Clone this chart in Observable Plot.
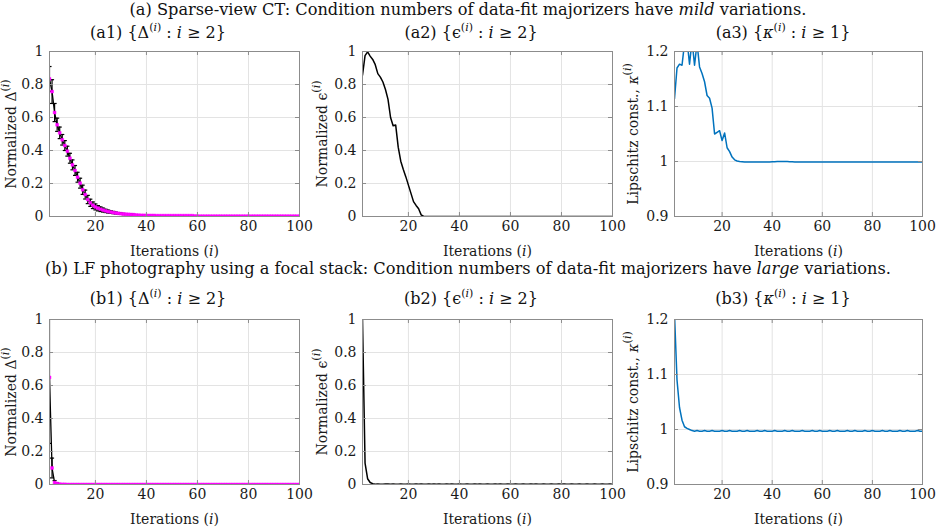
<!DOCTYPE html>
<html>
<head>
<meta charset="utf-8">
<script src="https://cdn.jsdelivr.net/npm/d3@7"></script>
<script src="https://cdn.jsdelivr.net/npm/@observablehq/plot@0.6"></script>
<style>
  html, body { margin: 0; padding: 0; background: #fff; }
  #root { position: relative; width: 936px; height: 528px; background: #fff; font-family: "DejaVu Serif", serif; color: #111; overflow: hidden; }
  .t { position: absolute; left: 0; width: 936px; text-align: center; font-size: 16.2px; line-height: 18px; white-space: nowrap; }
  .st { position: absolute; font-size: 16px; line-height: 18px; white-space: nowrap; transform: translateX(-50%); }
  .st sup { font-size: 11px; vertical-align: 7px; line-height: 0; }
  .p { position: absolute; }
</style>
</head>
<body>
<div id="root">
  <div class="t" style="top:1px">(a) Sparse-view CT: Condition numbers of data-fit majorizers have <i>mild</i> variations.</div>
  <div class="st" style="left:158px;top:24px">(a1) {Δ<sup>(<i>i</i>)</sup>&nbsp;: <i>i</i>&nbsp;≥ 2}</div>
  <div class="st" style="left:471px;top:24px">(a2) {ϵ<sup>(<i>i</i>)</sup>&nbsp;: <i>i</i>&nbsp;≥ 2}</div>
  <div class="st" style="left:783px;top:24px">(a3) {<i>κ</i><sup>(<i>i</i>)</sup>&nbsp;: <i>i</i>&nbsp;≥ 1}</div>
  <div class="t" style="top:260px">(b) LF photography using a focal stack: Condition numbers of data-fit majorizers have <i>large</i> variations.</div>
  <div class="st" style="left:158px;top:290px">(b1) {Δ<sup>(<i>i</i>)</sup>&nbsp;: <i>i</i>&nbsp;≥ 2}</div>
  <div class="st" style="left:471px;top:290px">(b2) {ϵ<sup>(<i>i</i>)</sup>&nbsp;: <i>i</i>&nbsp;≥ 2}</div>
  <div class="st" style="left:783px;top:290px">(b3) {<i>κ</i><sup>(<i>i</i>)</sup>&nbsp;: <i>i</i>&nbsp;≥ 1}</div>
</div>
<script>
// ---------- data ----------
const xTickValues = [20, 40, 60, 80, 100];
const yTicksNorm = [0, 0.2, 0.4, 0.6, 0.8, 1];
const yTicksKappa = [0.9, 1.0, 1.1, 1.2];

// (a) Sparse-view CT, iterations i = 2..100
const deltaA = [
  0.834,0.757,0.630,0.556,0.507,0.465,0.430,0.396,0.353,0.313,
  0.279,0.238,0.202,0.162,0.133,0.103,0.083,0.068,0.058,0.050,
  0.044,0.039,0.034,0.030,0.027,0.024,0.021,0.019,0.017,0.015,
  0.014,0.013,0.012,0.011,0.009,0.008,0.007,0.007,0.006,0.006,
  0.006,0.006,0.005,0.005,0.005,0.005,0.005,0.005,0.005,0.005,
  0.005,0.005,0.005,0.005,0.005,0.005,0.005,0.003,0.002,0.002,
  0.002,0.002,0.002,0.002,0.002,0.002,0.002,0.002,0.002,0.002,
  0.002,0.002,0.002,0.002,0.002,0.002,0.002,0.002,0.002,0.002,
  0.002,0.002,0.002,0.002,0.002,0.002,0.002,0.002,0.002,0.002,
  0.002,0.002,0.002,0.002,0.002,0.002,0.002,0.002,0.002
];
const errA = [
  0.075,0.072,0.055,0.040,0.035,0.032,0.030,0.030,0.030,0.030,
  0.030,0.030,0.030,0.028,0.027,0.025,0.022,0.020,0.018,0.016,
  0.014,0.012,0.010,0.009,0.008,0.007,0.006,0.005,0.004,0.004,
  0.003,0.003,0.003,0.002,0.002,0,0,0,0,0,
  0,0,0,0,0,0,0,0,0,0,
  0,0,0,0,0,0,0,0,0,0,
  0,0,0,0,0,0,0,0,0,0,
  0,0,0,0,0,0,0,0,0,0,
  0,0,0,0,0,0,0,0,0,0,
  0,0,0,0,0,0,0,0,0
];
const epsA = [
  0.857,0.975,0.998,0.972,0.952,0.920,0.866,0.845,0.815,0.770,
  0.710,0.600,0.550,0.555,0.420,0.335,0.285,0.240,0.190,0.140,
  0.090,0.067,0.047,0.010,0.000,0,0,0,0,0,
  0,0,0,0,0,0,0,0,0,0,
  0,0,0,0,0,0,0,0,0,0,
  0,0,0,0,0,0,0,0,0,0,
  0,0,0,0,0,0,0,0,0,0,
  0,0,0,0,0,0,0,0,0,0,
  0,0,0,0,0,0,0,0,0,0,
  0,0,0,0,0,0,0,0,0
];
// iterations i = 1..100
const kappaA = [
  1.114,1.170,1.177,1.175,1.215,1.220,1.177,1.220,1.175,1.215,
  1.172,1.160,1.145,1.120,1.115,1.097,1.050,1.053,1.056,1.038,
  1.052,1.025,1.018,1.008,1.003,1.001,1.000,0.9995,0.999,0.999,
  0.999,0.999,0.999,0.999,0.999,0.999,0.999,0.9992,0.9993,0.9995,
  0.9996,0.9998,1.0000,1.0002,1.0001,0.9998,0.9996,0.9994,0.9993,0.9992,
  0.999,0.999,0.999,0.999,0.999,0.999,0.999,0.999,0.999,0.999,
  0.999,0.999,0.999,0.999,0.999,0.999,0.999,0.999,0.999,0.999,
  0.999,0.999,0.999,0.999,0.999,0.999,0.999,0.999,0.999,0.999,
  0.999,0.999,0.999,0.999,0.999,0.999,0.999,0.999,0.999,0.999,
  0.999,0.999,0.999,0.999,0.999,0.999,0.999,0.999,0.999,0.999
];

// (b) LF photography, iterations i = 2..100
const deltaB = [
  0.649,0.100,0.012,0.006,0.002,0.001,0.001,0,0,0,
  0,0,0,0,0,0,0,0,0,0,
  0,0,0,0,0,0,0,0,0,0,
  0,0,0,0,0,0,0,0,0,0,
  0,0,0,0,0,0,0,0,0,0,
  0,0,0,0,0,0,0,0,0,0,
  0,0,0,0,0,0,0,0,0,0,
  0,0,0,0,0,0,0,0,0,0,
  0,0,0,0,0,0,0,0,0,0,
  0,0,0,0,0,0,0,0,0
];
const errB = [
  0.400,0.060,0.012,0.004,0,0,0,0,0,0,
  0,0,0,0,0,0,0,0,0,0,
  0,0,0,0,0,0,0,0,0,0,
  0,0,0,0,0,0,0,0,0,0,
  0,0,0,0,0,0,0,0,0,0,
  0,0,0,0,0,0,0,0,0,0,
  0,0,0,0,0,0,0,0,0,0,
  0,0,0,0,0,0,0,0,0,0,
  0,0,0,0,0,0,0,0,0,0,
  0,0,0,0,0,0,0,0,0
];
const epsB = [
  1.000,0.130,0.035,0.012,0.005,0.002,0.003,0.002,0.002,0.003,
  0.003,0.002,0.003,0.002,0.002,0.003,0.002,0.002,0.003,0.002,
  0.002,0.003,0.002,0.003,0.002,0.002,0.003,0.002,0.003,0.002,
  0.003,0.002,0.002,0.003,0.002,0.003,0.002,0.002,0.003,0.002,
  0.002,0.003,0.002,0.002,0.003,0.002,0.003,0.002,0.002,0.003,
  0.002,0.002,0.003,0.002,0.003,0.002,0.002,0.003,0.002,0.002,
  0.003,0.002,0.002,0.003,0.002,0.002,0.003,0.002,0.003,0.002,
  0.002,0.003,0.002,0.002,0.003,0.002,0.002,0.003,0.002,0.003,
  0.002,0.002,0.003,0.002,0.002,0.003,0.002,0.002,0.003,0.002,
  0.002,0.003,0.002,0.002,0.003,0.002,0.002,0.003,0.002
];
// iterations i = 1..100
const kappaB = [
  1.210,1.090,1.040,1.017,1.005,1.002,1.000,0.998,0.997,0.998,
  0.997,0.997,0.998,0.997,0.997,0.998,0.997,0.997,0.997,0.998,
  0.997,0.997,0.998,0.997,0.997,0.997,0.998,0.997,0.997,0.998,
  0.997,0.997,0.997,0.998,0.997,0.997,0.998,0.997,0.997,0.997,
  0.998,0.997,0.997,0.997,0.998,0.997,0.997,0.998,0.997,0.997,
  0.997,0.998,0.997,0.997,0.997,0.998,0.997,0.997,0.998,0.997,
  0.997,0.997,0.998,0.997,0.997,0.998,0.997,0.997,0.997,0.998,
  0.997,0.997,0.998,0.997,0.997,0.997,0.998,0.997,0.997,0.998,
  0.997,0.997,0.997,0.998,0.997,0.997,0.998,0.997,0.997,0.997,
  0.998,0.997,0.997,0.998,0.997,0.997,0.997,0.998,0.997,0.997
];

// ---------- drawing ----------
const itersFrom2 = d3.range(2, 101);
const itersFrom1 = d3.range(1, 101);
const FONT = "DejaVu Serif";
const FRAME = "#8c8c8c";
const GRID = "#e3e3e3";
const BLUE = "#0072BD";
const MAGENTA = "#ff00ff";
const fmt = d => String(+d.toFixed(2));

function panel({left, top, width, marginLeft, marginRight, xDomain, yDomain, yTicks, ylabelMain, ylabelHtml, marks, ylabelOffset}) {
  const marginTop = 11, marginBottom = 45, plotH = 165;
  const height = marginTop + plotH + marginBottom;
  const plotW = width - marginLeft - marginRight;
  const svg = Plot.plot({
    width, height, marginTop, marginBottom, marginLeft, marginRight,
    style: {fontFamily: FONT, fontSize: "14px", color: "#1a1a1a", background: "transparent", overflow: "visible"},
    x: {domain: xDomain},
    y: {domain: yDomain},
    marks: [
      Plot.gridX(xTickValues, {stroke: GRID, strokeOpacity: 1}),
      Plot.gridY(yTicks, {stroke: GRID, strokeOpacity: 1}),
      ...marks,
      Plot.frame({stroke: FRAME}),
      Plot.ruleX(xTickValues, {stroke: FRAME, insetTop: plotH - 4}),
      Plot.ruleX(xTickValues, {stroke: FRAME, insetBottom: plotH - 4}),
      Plot.ruleY(yTicks, {stroke: FRAME, insetRight: plotW - 4}),
      Plot.ruleY(yTicks, {stroke: FRAME, insetLeft: plotW - 4}),
      Plot.axisX(xTickValues, {tickSize: 0, tickPadding: 5, label: "Iterations (i)", labelAnchor: "center", labelArrow: "none", labelOffset: 39}),
      Plot.axisY(yTicks, {tickSize: 0, tickPadding: 6, tickFormat: fmt, label: ylabelMain, labelAnchor: "center", labelArrow: "none", labelOffset: ylabelOffset})
    ]
  });
  // rich text for axis labels (italic i and superscript)
  const xl = svg.querySelector('[aria-label="x-axis label"] text');
  if (xl) xl.innerHTML = 'Iterations (<tspan font-style="italic">i</tspan>)';
  const yl = svg.querySelector('[aria-label="y-axis label"] text');
  if (yl) yl.innerHTML = ylabelHtml + '<tspan dy="-7" font-size="11">(<tspan font-style="italic">i</tspan>)</tspan>';
  const wrap = document.createElement("div");
  wrap.className = "p";
  wrap.style.left = left + "px";
  wrap.style.top = top + "px";
  wrap.appendChild(svg);
  document.getElementById("root").appendChild(wrap);
}

function errorMarks(rows) {
  const withErr = rows.filter(d => d.e > 0);
  return [
    Plot.ruleX(withErr, {x: "i", y1: d => d.v - d.e, y2: d => d.v + d.e, stroke: "black", strokeWidth: 1.2, clip: true}),
    Plot.link(withErr, {x1: d => d.i - 0.8, x2: d => d.i + 0.8, y1: d => d.v + d.e, y2: d => d.v + d.e, stroke: "black", strokeWidth: 1.2, clip: true}),
    Plot.link(withErr, {x1: d => d.i - 0.8, x2: d => d.i + 0.8, y1: d => d.v - d.e, y2: d => d.v - d.e, stroke: "black", strokeWidth: 1.2, clip: true}),
    Plot.line(rows, {x: "i", y: "v", stroke: "black", strokeWidth: 1.3, clip: true}),
    Plot.dot(rows, {x: "i", y: "v", symbol: "square", r: 1.6, fill: MAGENTA, stroke: MAGENTA, strokeWidth: 0.5, clip: true})
  ];
}

const rowsDeltaA = itersFrom2.map((i, k) => ({i, v: deltaA[k], e: errA[k]}));
const rowsDeltaB = itersFrom2.map((i, k) => ({i, v: deltaB[k], e: errB[k]}));
const rowsEpsA = itersFrom2.map((i, k) => ({i, v: epsA[k]}));
const rowsEpsB = itersFrom2.map((i, k) => ({i, v: epsB[k]}));
const rowsKapA = itersFrom1.map((i, k) => ({i, v: kappaA[k]}));
const rowsKapB = itersFrom1.map((i, k) => ({i, v: kappaB[k]}));

const cols = [
  {left: 0, width: 310, marginLeft: 49, marginRight: 11, ylabelOffset: 43},
  {left: 310, width: 310, marginLeft: 52, marginRight: 8, ylabelOffset: 45},
  {left: 620, width: 316, marginLeft: 54, marginRight: 14, ylabelOffset: 46}
];
const rowTops = [40, 308];

[
  [rowsDeltaA, rowsEpsA, rowsKapA],
  [rowsDeltaB, rowsEpsB, rowsKapB]
].forEach((set, r) => {
  panel({...cols[0], top: rowTops[r], xDomain: [2, 100], yDomain: [0, 1], yTicks: yTicksNorm,
    ylabelMain: "Normalized Δ", ylabelHtml: "Normalized Δ", marks: errorMarks(set[0])});
  panel({...cols[1], top: rowTops[r], xDomain: [2, 100], yDomain: [0, 1], yTicks: yTicksNorm,
    ylabelMain: "Normalized ϵ", ylabelHtml: "Normalized ϵ", marks: [Plot.line(set[1], {x: "i", y: "v", stroke: "black", strokeWidth: 1.5, clip: true})]});
  panel({...cols[2], top: rowTops[r], xDomain: [1, 100], yDomain: [0.9, 1.2], yTicks: yTicksKappa,
    ylabelMain: "Lipschitz const., κ", ylabelHtml: 'Lipschitz const., <tspan font-style="italic">κ</tspan>',
    marks: [Plot.line(set[2], {x: "i", y: "v", stroke: BLUE, strokeWidth: 1.5, clip: true})]});
});
</script>
</body>
</html>
